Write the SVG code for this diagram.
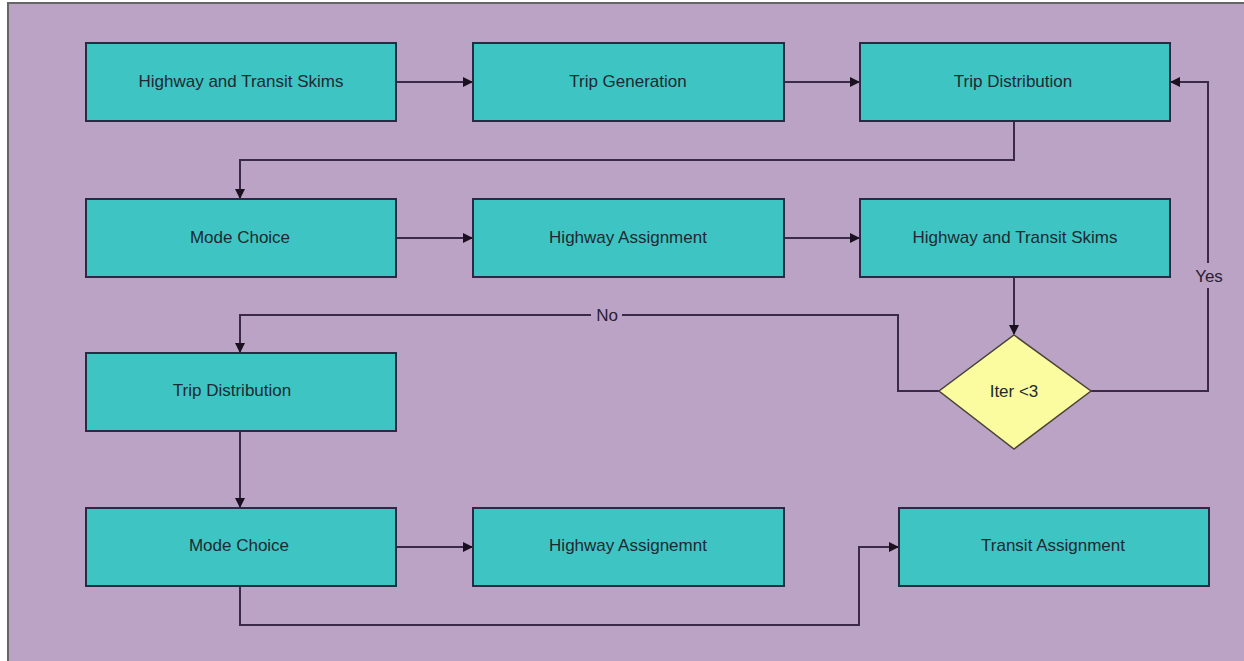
<svg xmlns="http://www.w3.org/2000/svg" width="1244" height="661" viewBox="0 0 1244 661">
<style>
.bg{fill:#bba3c5}
.box{fill:#3fc4c4;stroke:#2a2a44;stroke-width:2}
.dia{fill:#fbfba0;stroke:#4a4438;stroke-width:1.5}
.t{font-family:"Liberation Sans",Arial,sans-serif;font-size:17px;fill:#1e2a30;text-anchor:middle;dominant-baseline:central}
.c{fill:none;stroke:#3a2a48;stroke-width:2}
.lbl{font-family:"Liberation Sans",Arial,sans-serif;font-size:17px;fill:#2a2030;text-anchor:middle;dominant-baseline:central}
</style>
<defs>
<marker id="ah" markerWidth="10" markerHeight="10" refX="9" refY="5" orient="auto" markerUnits="userSpaceOnUse">
<path d="M0,0 L10,5 L0,10 z" fill="#1a1020"/>
</marker>
</defs>
<rect width="1244" height="661" fill="#ffffff"/>
<rect class="bg" x="8" y="3" width="1240" height="661" stroke="#666" stroke-width="2"/>
<g id="connectors">
<path class="c" d="M396,82 H472" marker-end="url(#ah)"/>
<path class="c" d="M784,82 H859" marker-end="url(#ah)"/>
<path class="c" d="M1014,121 V160 H240 V198" marker-end="url(#ah)"/>
<path class="c" d="M396,238 H472" marker-end="url(#ah)"/>
<path class="c" d="M784,238 H859" marker-end="url(#ah)"/>
<path class="c" d="M1014,277 V334" marker-end="url(#ah)"/>
<path class="c" d="M939,391 H898 V315 H622 M591,315 H240 V352" marker-end="url(#ah)"/>
<text class="lbl" x="607" y="315">No</text>
<path class="c" d="M1091,391 H1208 V288 M1208,263 V82 H1171" marker-end="url(#ah)"/>
<text class="lbl" x="1209" y="276">Yes</text>
<path class="c" d="M240,431 V507" marker-end="url(#ah)"/>
<path class="c" d="M396,547 H472" marker-end="url(#ah)"/>
<path class="c" d="M240,586 V625 H859 V547 H898" marker-end="url(#ah)"/>
</g>
<g id="n1"><rect class="box" x="86" y="43" width="310" height="78"/><text class="t" x="241" y="81">Highway and Transit Skims</text></g>
<g id="n2"><rect class="box" x="473" y="43" width="311" height="78"/><text class="t" x="628" y="81">Trip Generation</text></g>
<g id="n3"><rect class="box" x="860" y="43" width="310" height="78"/><text class="t" x="1013" y="81">Trip Distribution</text></g>
<g id="n4"><rect class="box" x="86" y="199" width="310" height="78"/><text class="t" x="240" y="237">Mode Choice</text></g>
<g id="n5"><rect class="box" x="473" y="199" width="311" height="78"/><text class="t" x="628" y="237">Highway Assignment</text></g>
<g id="n6"><rect class="box" x="860" y="199" width="310" height="78"/><text class="t" x="1015" y="237">Highway and Transit Skims</text></g>
<g id="n7"><polygon class="dia" points="1014,335 1091,391 1014,449 939,391"/><text class="t" x="1014" y="391">Iter &lt;3</text></g>
<g id="n8"><rect class="box" x="86" y="353" width="310" height="78"/><text class="t" x="232" y="390">Trip Distribution</text></g>
<g id="n9"><rect class="box" x="86" y="508" width="310" height="78"/><text class="t" x="239" y="545">Mode Choice</text></g>
<g id="n10"><rect class="box" x="473" y="508" width="311" height="78"/><text class="t" x="628" y="545">Highway Assignemnt</text></g>
<g id="n11"><rect class="box" x="899" y="508" width="310" height="78"/><text class="t" x="1053" y="545">Transit Assignment</text></g>
</svg>
